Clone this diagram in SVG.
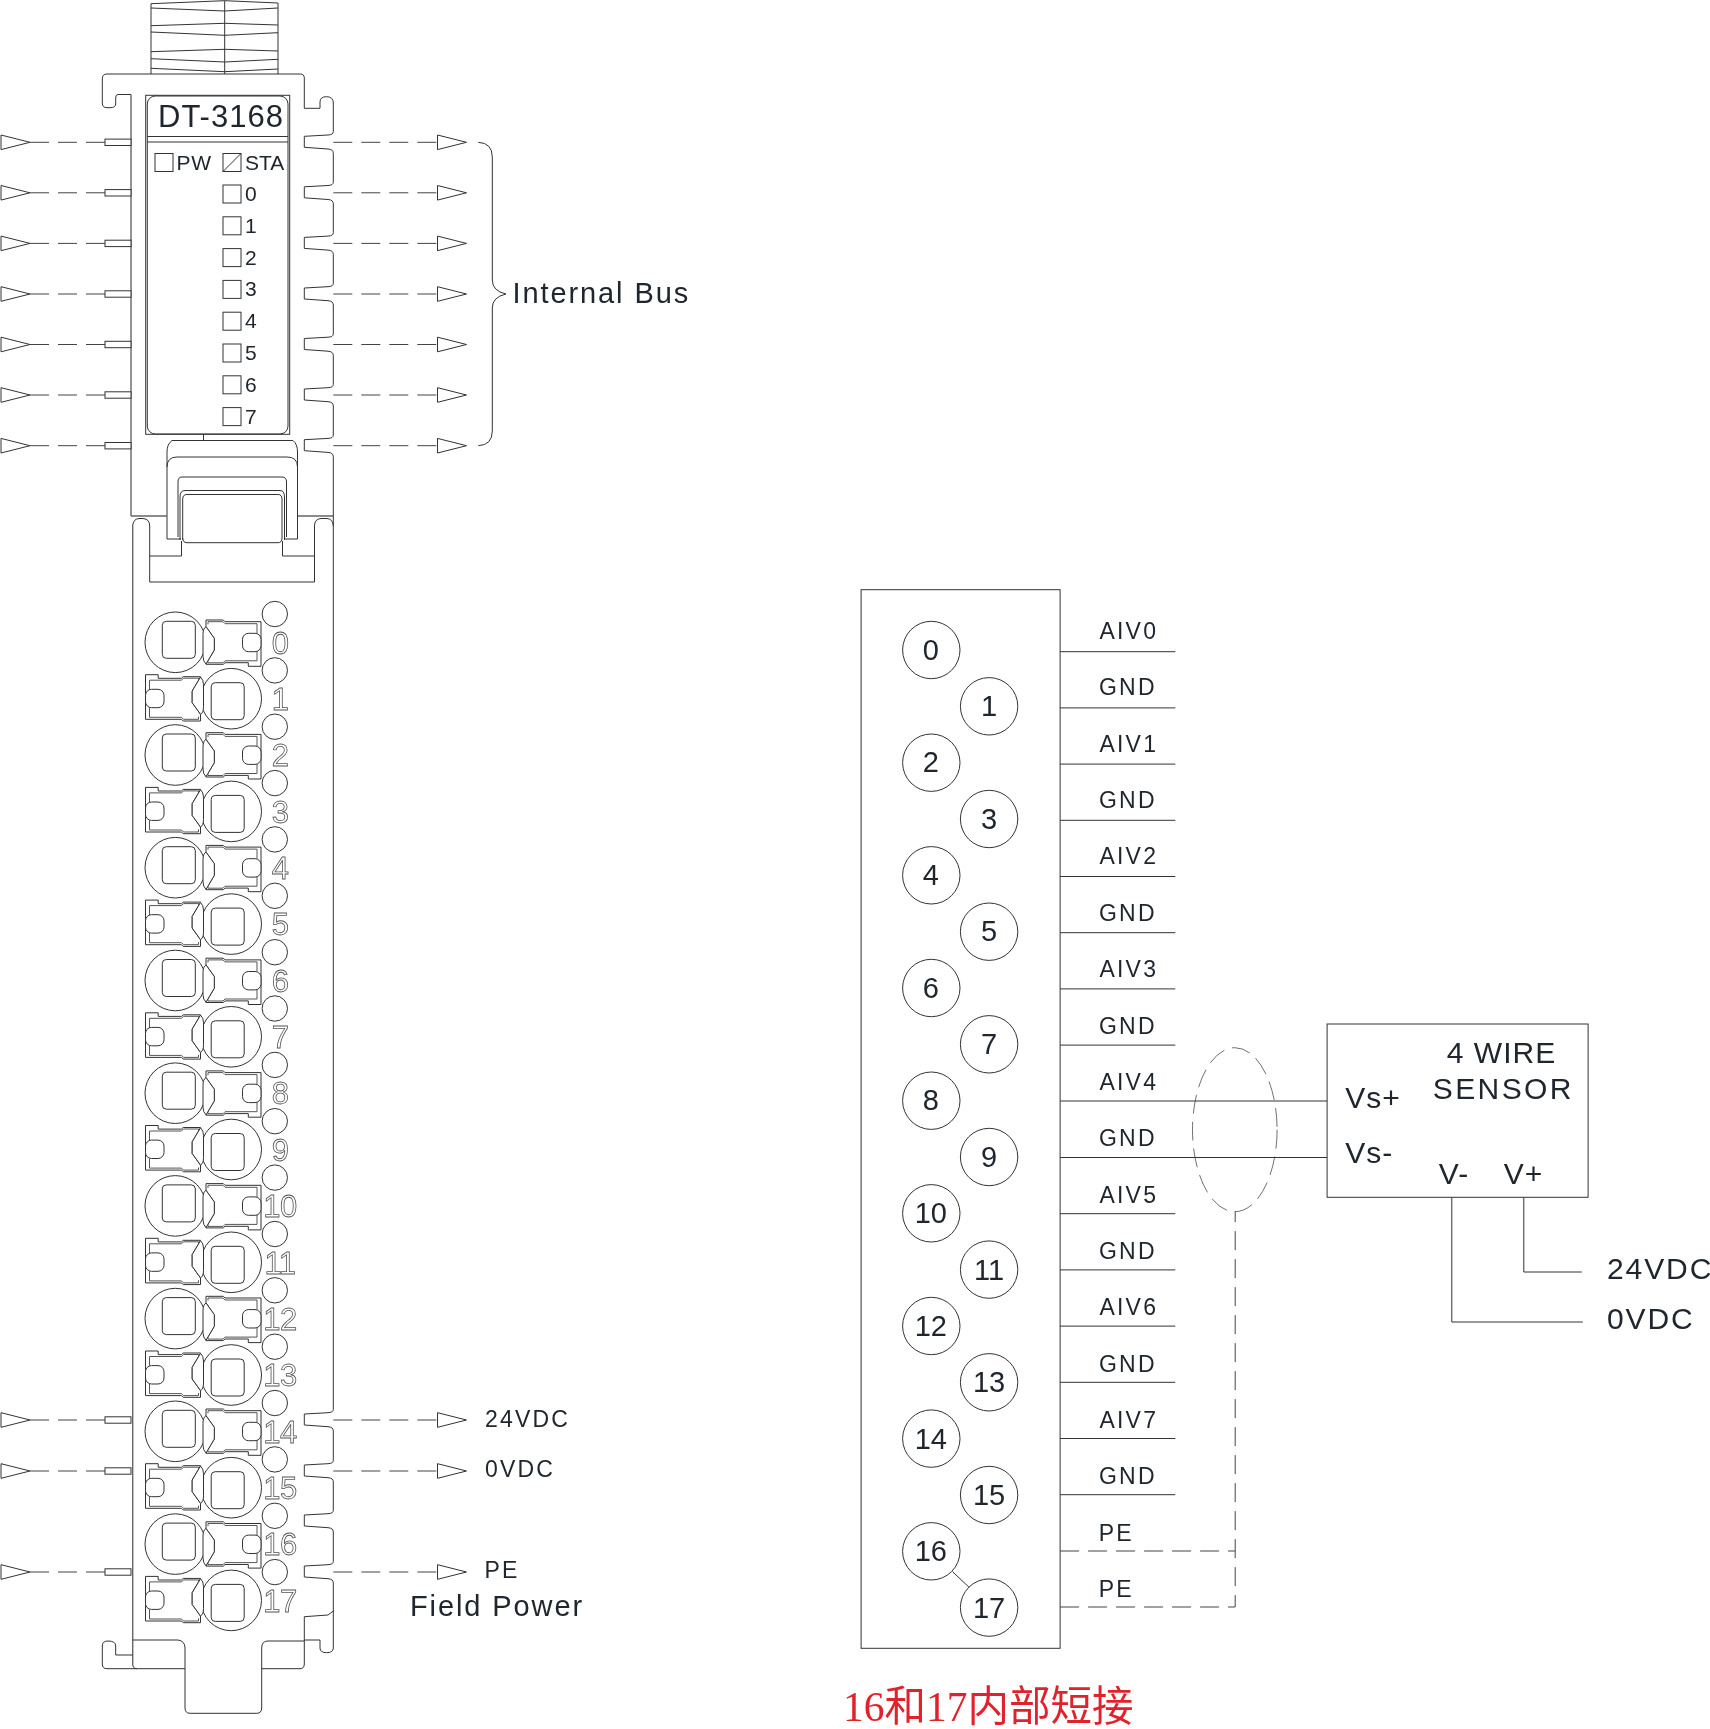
<svg xmlns="http://www.w3.org/2000/svg" width="1710" height="1729" viewBox="0 0 1710 1729">
<style>
text{font-family:"Liberation Sans",Arial,sans-serif;fill:#20262e}
.l{fill:none;stroke:#333;stroke-width:1}
.w{fill:#fff;stroke:#333;stroke-width:1}
.g{fill:none;stroke:#666;stroke-width:1.4}
.i{fill:none;stroke:#555;stroke-width:1}
.d{fill:none;stroke:#444;stroke-width:1;stroke-dasharray:19 9}
.led{font-size:21px}
.tag{font-size:23px;letter-spacing:2.2px}
.big{font-size:29px;letter-spacing:1.9px}
.sn{font-size:30px}
.pin{font-size:29px;text-anchor:middle}
.ot{font-size:31px;text-anchor:middle;fill:#fff;stroke:#555;stroke-width:.8px;letter-spacing:-.5px}
.sig{font-size:23px;letter-spacing:2.2px}
</style>
<defs>
<filter id="flat" filterUnits="userSpaceOnUse" x="0" y="0" width="1710" height="1729" color-interpolation-filters="sRGB"><feOffset dx="0" dy="0"/></filter>
<polygon id="tri" class="w" points="0,-7.3 0,7.3 29,0"/>
<path id="notch" class="l" d="M333.3,-10.6Q333.3,-7.5 328,-7.3L304.3,-6V5L328,6.7Q333.3,7 333.3,11"/>
<g id="bus-l">
<path class="d" d="M30,0H105"/><rect class="w" x="105" y="-3.2" width="26" height="6.4"/><use href="#tri" x="1"/>
</g>
<g id="bus-r">
<path class="d" d="M333.3,0H437.5"/><use href="#tri" x="437.5"/>
</g>
<g id="term">
<circle class="l" cx="175.3" cy="0" r="30.3"/>
<rect class="l" x="162.3" y="-21" width="33" height="37" rx="4"/>
<path class="w" d="M206,-15.6V-22.3H223.3L225,-20.6H261V24H248.3V20.4H225L223.3,22H206V21.7L214.3,7.7V-4Z"/>
<path class="w" d="M206,-15.6Q203,-14 203,-8V14Q203,19 206,21.7L214.3,7.7V-4Z"/>
<path class="i" d="M208,-18V-20.6H223L225,-18.6H257V-9M257,8V18.5H225L223,20.5H208V19"/>
<rect class="w" x="242.5" y="-9" width="18.5" height="18.4" rx="6"/>
</g>
</defs>
<g filter="url(#flat)">
<rect width="1710" height="1729" fill="#fff"/>

<g id="module">
<path class="l" d="M151,74V3.7L224.7,.7L278,3V74M224.7,.7V74M151,8L224.7,11L278,8M151,25.7L224.7,23.3L278,25M151,32L224.7,35.3L278,32.7M151,51.7L224.7,49.3L278,51M151,58.7L224.7,62L278,59.3M151,68.3L224.7,71.7L278,69"/>
<path class="l" d="M131,94.5H118Q115.7,94.5 115.7,98V104Q115.7,107.7 110,107.7H107Q102.3,107.7 102.3,103V79Q102.3,74 107,74H300Q304.3,74 304.3,78V108.3H320V102Q320,96.7 326.5,96.7Q333.3,96.7 333.3,103V131.7"/>
<path class="g" d="M131,94.5V516M131,516H166.7M297.5,516H333.3M132.7,526V1664"/>
<path class="l" d="M333.3,153.3V182.2M333.3,203.8V232.8M333.3,254.4V283.4M333.3,305V333.9M333.3,355.5V384.4M333.3,406V435.1M333.3,456.7V1409.4M333.3,1431V1460.4M333.3,1482V1510.4M333.3,1532V1561.4M333.3,1583V1648Q333.3,1652.7 326.5,1652.7Q320,1652.7 320,1648V1640H304.3M333.3,1611L328,1615L304.3,1616.7V1664Q304.3,1668.7 300,1668.7H261.7M185,1668.7H107Q102.3,1668.7 102.3,1664V1646Q102.3,1641 108,1641Q115.7,1641 115.7,1646V1655H132.7M132.7,1664Q132.7,1668.7 137,1668.7M132.7,1640H178Q185,1641 185,1648V1708Q185,1713.3 190,1713.3H256.7Q261.7,1713.3 261.7,1708V1648Q261.7,1641 268,1641H304.3"/>
<use href="#notch" y="142.3"/><use href="#notch" y="192.8"/><use href="#notch" y="243.4"/><use href="#notch" y="294"/><use href="#notch" y="344.5"/><use href="#notch" y="395"/><use href="#notch" y="445.7"/><use href="#notch" y="1420"/><use href="#notch" y="1471"/><use href="#notch" y="1521"/><use href="#notch" y="1572"/>

<rect class="l" x="145.7" y="95.3" width="144" height="339"/>
<rect class="l" x="147.3" y="96" width="140.7" height="338" rx="8"/>
<path class="l" d="M147.3,136.5H288M147.3,142H288"/>
<text x="158" y="127" font-size="31" letter-spacing="1">DT-3168</text>

<g id="leds">
<rect class="l" x="155" y="153.5" width="18" height="18"/><text class="led" x="176.5" y="170" letter-spacing=".7">PW</text>
<rect class="l" x="223" y="153.5" width="18" height="18"/><path class="l" d="M223,171.5L241,153.5"/><text class="led" x="245" y="170">STA</text>
<rect class="l" x="223" y="185" width="18" height="18"/><text class="led" x="245" y="201">0</text>
<rect class="l" x="223" y="216.8" width="18" height="18"/><text class="led" x="245" y="232.8">1</text>
<rect class="l" x="223" y="248.6" width="18" height="18"/><text class="led" x="245" y="264.6">2</text>
<rect class="l" x="223" y="280.4" width="18" height="18"/><text class="led" x="245" y="296.4">3</text>
<rect class="l" x="223" y="312.2" width="18" height="18"/><text class="led" x="245" y="328.2">4</text>
<rect class="l" x="223" y="344" width="18" height="18"/><text class="led" x="245" y="360">5</text>
<rect class="l" x="223" y="375.8" width="18" height="18"/><text class="led" x="245" y="391.8">6</text>
<rect class="l" x="223" y="407.6" width="18" height="18"/><text class="led" x="245" y="423.6">7</text>
</g>

<g id="latch">
<path class="l" d="M203.5,434.3V440.5M181,539H167V452Q167,444 172,440.5H293Q297.5,444 297.5,452V539H284M167,467Q167,457 177,457H287Q297.5,457 297.5,467M178,537V482Q178,477 182,477H282Q286.5,477 286.5,482V537M180,540V497Q180,490.5 185,490.5H280Q284.5,490.5 284.5,497V540M182.7,540V499Q182.7,494.5 187,494.5H278Q282,494.5 282,499V538Q282,542.7 278,542.7H187Q182.7,542.7 182.7,538"/>
<path class="l" d="M132.7,526Q133,519 139,518.5H143Q149.7,519 149.7,526V582H314.5V526Q314.5,519 321,518.5H327Q333,519 333.3,526M149.7,556H181.5V541M282.5,541V556H314.5"/>
</g>

<g id="terminals">
<use href="#term" transform="translate(0,642.3)"/>
<use href="#term" transform="translate(406.5,698.7) scale(-1,-1)"/>
<use href="#term" transform="translate(0,755)"/>
<use href="#term" transform="translate(406.5,811.4) scale(-1,-1)"/>
<use href="#term" transform="translate(0,867.7)"/>
<use href="#term" transform="translate(406.5,924.1) scale(-1,-1)"/>
<use href="#term" transform="translate(0,980.5)"/>
<use href="#term" transform="translate(406.5,1036.8) scale(-1,-1)"/>
<use href="#term" transform="translate(0,1093.2)"/>
<use href="#term" transform="translate(406.5,1149.5) scale(-1,-1)"/>
<use href="#term" transform="translate(0,1205.9)"/>
<use href="#term" transform="translate(406.5,1262.3) scale(-1,-1)"/>
<use href="#term" transform="translate(0,1318.6)"/>
<use href="#term" transform="translate(406.5,1375) scale(-1,-1)"/>
<use href="#term" transform="translate(0,1431.3)"/>
<use href="#term" transform="translate(406.5,1487.7) scale(-1,-1)"/>
<use href="#term" transform="translate(0,1544.1)"/>
<use href="#term" transform="translate(406.5,1600.4) scale(-1,-1)"/>
<g class="l">
<circle cx="274.8" cy="614" r="12.7"/><circle cx="274.8" cy="670.4" r="12.7"/><circle cx="274.8" cy="726.7" r="12.7"/><circle cx="274.8" cy="783.1" r="12.7"/><circle cx="274.8" cy="839.4" r="12.7"/><circle cx="274.8" cy="895.8" r="12.7"/><circle cx="274.8" cy="952.2" r="12.7"/><circle cx="274.8" cy="1008.5" r="12.7"/><circle cx="274.8" cy="1064.9" r="12.7"/><circle cx="274.8" cy="1121.2" r="12.7"/><circle cx="274.8" cy="1177.6" r="12.7"/><circle cx="274.8" cy="1234" r="12.7"/><circle cx="274.8" cy="1290.3" r="12.7"/><circle cx="274.8" cy="1346.7" r="12.7"/><circle cx="274.8" cy="1403" r="12.7"/><circle cx="274.8" cy="1459.4" r="12.7"/><circle cx="274.8" cy="1515.8" r="12.7"/><circle cx="274.8" cy="1572.1" r="12.7"/>
</g>
<text class="ot" x="280" y="653.5">0</text><text class="ot" x="280" y="709.9">1</text><text class="ot" x="280" y="766.2">2</text><text class="ot" x="280" y="822.6">3</text><text class="ot" x="280" y="878.9">4</text><text class="ot" x="280" y="935.3">5</text><text class="ot" x="280" y="991.7">6</text><text class="ot" x="280" y="1048">7</text><text class="ot" x="280" y="1104.4">8</text><text class="ot" x="280" y="1160.7">9</text><text class="ot" x="280" y="1217.1">10</text><text class="ot" x="280" y="1273.5">11</text><text class="ot" x="280" y="1329.8">12</text><text class="ot" x="280" y="1386.2">13</text><text class="ot" x="280" y="1442.5">14</text><text class="ot" x="280" y="1498.9">15</text><text class="ot" x="280" y="1555.3">16</text><text class="ot" x="280" y="1611.6">17</text>
</g>
</g>

<g id="bus-connectors">
<use href="#bus-l" y="142.3"/><use href="#bus-l" y="192.8"/><use href="#bus-l" y="243.4"/><use href="#bus-l" y="294"/><use href="#bus-l" y="344.5"/><use href="#bus-l" y="395"/><use href="#bus-l" y="445.7"/><use href="#bus-l" y="1420"/><use href="#bus-l" y="1471"/><use href="#bus-l" y="1572"/>
<use href="#bus-r" y="142.3"/><use href="#bus-r" y="192.8"/><use href="#bus-r" y="243.4"/><use href="#bus-r" y="294"/><use href="#bus-r" y="344.5"/><use href="#bus-r" y="395"/><use href="#bus-r" y="445.7"/><use href="#bus-r" y="1420"/><use href="#bus-r" y="1471"/><use href="#bus-r" y="1572"/>
<path class="l" d="M478.3,142.3Q492.3,143 492.3,157V280Q492.3,291 506,294Q492.3,297 492.3,308V431Q492.3,445 478.3,445.7"/>
</g>
<g id="bus-labels">
<text class="big" x="512.5" y="303">Internal Bus</text>
<text class="tag" x="485" y="1426.5">24VDC</text>
<text class="tag" x="485" y="1476.5">0VDC</text>
<text class="tag" x="484.5" y="1577.5">PE</text>
<text class="big" x="410" y="1616">Field Power</text>
</g>

<g id="terminal-block" transform="translate(.8,0)">
<rect class="l" x="860.3" y="589.7" width="199" height="1058.6"/>
<g id="t0"><circle class="l" cx="930.5" cy="650" r="28.7"/><text class="pin" x="930" y="659.5">0</text></g>
<g id="t1"><circle class="l" cx="988.3" cy="706.3" r="28.7"/><text class="pin" x="988.3" y="715.8">1</text></g>
<g id="t2"><circle class="l" cx="930.5" cy="762.7" r="28.7"/><text class="pin" x="930" y="772.2">2</text></g>
<g id="t3"><circle class="l" cx="988.3" cy="819" r="28.7"/><text class="pin" x="988.3" y="828.5">3</text></g>
<g id="t4"><circle class="l" cx="930.5" cy="875.3" r="28.7"/><text class="pin" x="930" y="884.8">4</text></g>
<g id="t5"><circle class="l" cx="988.3" cy="931.7" r="28.7"/><text class="pin" x="988.3" y="941.2">5</text></g>
<g id="t6"><circle class="l" cx="930.5" cy="988" r="28.7"/><text class="pin" x="930" y="997.5">6</text></g>
<g id="t7"><circle class="l" cx="988.3" cy="1044.3" r="28.7"/><text class="pin" x="988.3" y="1053.8">7</text></g>
<g id="t8"><circle class="l" cx="930.5" cy="1100.7" r="28.7"/><text class="pin" x="930" y="1110.2">8</text></g>
<g id="t9"><circle class="l" cx="988.3" cy="1157" r="28.7"/><text class="pin" x="988.3" y="1166.5">9</text></g>
<g id="t10"><circle class="l" cx="930.5" cy="1213.3" r="28.7"/><text class="pin" x="930" y="1223.3">10</text></g>
<g id="t11"><circle class="l" cx="988.3" cy="1269.6" r="28.7"/><text class="pin" x="988.3" y="1279.6">11</text></g>
<g id="t12"><circle class="l" cx="930.5" cy="1326" r="28.7"/><text class="pin" x="930" y="1336">12</text></g>
<g id="t13"><circle class="l" cx="988.3" cy="1382.3" r="28.7"/><text class="pin" x="988.3" y="1392.3">13</text></g>
<g id="t14"><circle class="l" cx="930.5" cy="1438.6" r="28.7"/><text class="pin" x="930" y="1448.6">14</text></g>
<g id="t15"><circle class="l" cx="988.3" cy="1495" r="28.7"/><text class="pin" x="988.3" y="1505">15</text></g>
<g id="t16"><circle class="l" cx="930.5" cy="1551.3" r="28.7"/><text class="pin" x="930" y="1561.3">16</text></g>
<g id="t17"><circle class="l" cx="988.3" cy="1607.6" r="28.7"/><text class="pin" x="988.3" y="1617.6">17</text></g>
<text class="sig" x="1098.7" y="639.3">AIV0</text><text class="sig" x="1098.2" y="695.4">GND</text>
<text class="sig" x="1098.7" y="752.2">AIV1</text><text class="sig" x="1098.2" y="808.1">GND</text>
<text class="sig" x="1098.7" y="864.4">AIV2</text><text class="sig" x="1098.2" y="920.8">GND</text>
<text class="sig" x="1098.7" y="977.1">AIV3</text><text class="sig" x="1098.2" y="1033.5">GND</text>
<text class="sig" x="1098.7" y="1089.8">AIV4</text><text class="sig" x="1098.2" y="1146.2">GND</text>
<text class="sig" x="1098.7" y="1202.5">AIV5</text><text class="sig" x="1098.2" y="1258.9">GND</text>
<text class="sig" x="1098.7" y="1315.2">AIV6</text><text class="sig" x="1098.2" y="1371.6">GND</text>
<text class="sig" x="1098.7" y="1427.9">AIV7</text><text class="sig" x="1098.2" y="1484.3">GND</text>
<text class="sig" x="1098" y="1541">PE</text><text class="sig" x="1098" y="1597">PE</text>
</g>

<g id="sensor" transform="translate(.8,0)">
<rect class="l" x="1326.3" y="1024" width="261" height="173.3"/>
<text class="sn" x="1446" y="1063" letter-spacing="1">4 WIRE</text>
<text class="sn" x="1432" y="1099" letter-spacing="2.4">SENSOR</text>
<text class="sn" x="1344.5" y="1108" letter-spacing="1">Vs+</text>
<text class="sn" x="1344.5" y="1163" letter-spacing="1">Vs-</text>
<text class="sn" x="1438" y="1184" letter-spacing="1">V-</text>
<text class="sn" x="1503" y="1184" letter-spacing="1">V+</text>
</g>

<g id="connectors" transform="translate(.8,0)">
<path class="l" d="M1059.3,651.7H1174.5M1059.3,707.9H1174.5M1059.3,764.1H1174.5M1059.3,820.3H1174.5M1059.3,876.5H1174.5M1059.3,932.7H1174.5M1059.3,988.9H1174.5M1059.3,1045.1H1174.5M1059.3,1101H1326.3M1059.3,1157.5H1326.3M1059.3,1213.7H1174.5M1059.3,1269.9H1174.5M1059.3,1326.1H1174.5M1059.3,1382.3H1174.5M1059.3,1438.5H1174.5M1059.3,1494.7H1174.5"/>
<path class="l" d="M951.7,1571.7L968.3,1587.3"/>
<path class="d" d="M1059.3,1551H1234.4"/>
<path class="d" d="M1059.3,1607H1234.4V1211.7"/>
<ellipse class="l" cx="1234" cy="1129.7" rx="42.3" ry="82" style="stroke-width:.7;stroke-dasharray:19 8"/>
<path class="l" d="M1451,1197.3V1322H1582M1523,1197.3V1272H1581"/>
</g>
<g id="supply-labels">
<text class="sn" x="1607" y="1279" letter-spacing="1.9">24VDC</text>
<text class="sn" x="1607" y="1329" letter-spacing="1.9">0VDC</text>
</g>
<text x="843" y="1720.5" font-size="41.5" style="font-family:'Liberation Serif','Noto Sans CJK SC',serif;fill:#e0222c">16和17内部短接</text>
</g>
</svg>
